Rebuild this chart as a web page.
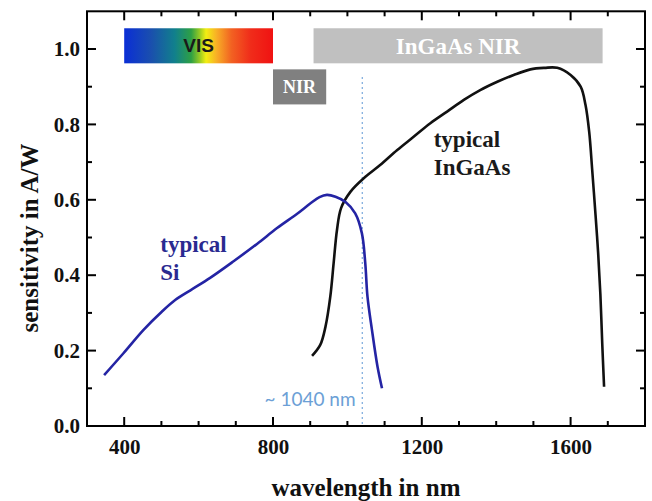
<!DOCTYPE html>
<html>
<head>
<meta charset="utf-8">
<script src="https://cdn.jsdelivr.net/npm/d3@7"></script>
<style>
  body { margin: 0; background: #fff; }
  svg { display: block; }
</style>
</head>
<body>
<div class="chart"></div>
<script>
// data
const siWl = [346, 398, 452, 501, 537, 578, 631, 694, 757, 811, 865, 900, 925, 945, 968, 995, 1021, 1039, 1048, 1054, 1066, 1081, 1093];
const siResp = [0.135, 0.193, 0.255, 0.303, 0.334, 0.36, 0.393, 0.437, 0.483, 0.525, 0.563, 0.59, 0.607, 0.613, 0.608, 0.594, 0.564, 0.511, 0.432, 0.343, 0.255, 0.157, 0.1];

const ingaasWl = [905, 927, 941, 954, 963, 972, 983, 1008, 1044, 1088, 1134, 1178, 1223, 1268, 1313, 1357, 1403, 1447, 1492, 1530, 1564, 1600, 1627, 1640, 1650, 1658, 1667, 1674, 1680, 1685, 1690];
const ingaasResp = [0.186, 0.215, 0.263, 0.343, 0.432, 0.52, 0.578, 0.621, 0.657, 0.692, 0.732, 0.767, 0.803, 0.834, 0.865, 0.891, 0.913, 0.931, 0.946, 0.95, 0.95, 0.931, 0.9, 0.852, 0.78, 0.68, 0.56, 0.46, 0.35, 0.22, 0.104];

// spectral bands (nm range, sensitivity range)
const bandNames = ["VIS", "NIR", "InGaAs NIR"];
const bandStart = [400, 800, 909];
const bandEnd = [800, 943, 1686];
const bandLow = [0.962, 0.853, 0.962];
const bandHigh = [1.055, 0.946, 1.055];

const xTicks = [400, 800, 1200, 1600];
const yTicks = [0.0, 0.2, 0.4, 0.6, 0.8, 1.0];

const cutoffWl = 1040;
const cutoffTop = 0.926;

const width = 652;
const height = 501;
const margin = { top: 12, right: 7, bottom: 75, left: 87 };

const svg = d3
  .select(".chart")
  .append("svg")
  .attr("width", width)
  .attr("height", height);

const x = d3
  .scaleLinear()
  .domain([300, 1800])
  .range([margin.left, width - margin.right]);

const y = d3
  .scaleLinear()
  .domain([0, 1.1])
  .range([height - margin.bottom, height - margin.bottom - 1.1 * 377]);

const serif = "'Liberation Serif', 'Times New Roman', serif";

//gradient for the visible band
const defs = svg.append("defs");
const grad = defs
  .append("linearGradient")
  .attr("id", "visGrad")
  .attr("x1", "0%")
  .attr("x2", "100%");
[
  [0, "#0a2ed6"],
  [0.18, "#1a4fae"],
  [0.34, "#11808c"],
  [0.45, "#2ea044"],
  [0.51, "#9ccc22"],
  [0.55, "#f2ee12"],
  [0.62, "#f8b026"],
  [0.72, "#f26222"],
  [0.85, "#f02c1a"],
  [1, "#f01212"]
].forEach(s => grad.append("stop").attr("offset", s[0]).attr("stop-color", s[1]));

const bandFill = ["url(#visGrad)", "#808080", "#c0c0c0"];
const bandText = ["#1a1a1a", "#ffffff", "#ffffff"];
const bandFont = ["'Liberation Sans', Arial, sans-serif", serif, serif];
const bandSize = [19, 18, 23];

const bands = svg
  .selectAll("g.band")
  .data(bandNames)
  .enter()
  .append("g")
  .attr("class", "band");

bands
  .append("rect")
  .attr("x", (d, i) => x(bandStart[i]))
  .attr("y", (d, i) => y(bandHigh[i]))
  .attr("width", (d, i) => x(bandEnd[i]) - x(bandStart[i]))
  .attr("height", (d, i) => y(bandLow[i]) - y(bandHigh[i]))
  .attr("fill", (d, i) => bandFill[i]);

bands
  .append("text")
  .attr("x", (d, i) => (x(bandStart[i]) + x(bandEnd[i])) / 2)
  .attr("y", (d, i) => (y(bandLow[i]) + y(bandHigh[i])) / 2)
  .attr("dy", "0.35em")
  .attr("text-anchor", "middle")
  .attr("font-family", (d, i) => bandFont[i])
  .attr("font-weight", "bold")
  .attr("font-size", (d, i) => bandSize[i])
  .attr("fill", (d, i) => bandText[i])
  .text(d => d);

//cutoff line
svg
  .append("line")
  .attr("x1", x(cutoffWl))
  .attr("x2", x(cutoffWl))
  .attr("y1", y(cutoffTop))
  .attr("y2", y(0))
  .attr("stroke", "#7aa9dc")
  .attr("stroke-width", 1.2)
  .attr("stroke-dasharray", "2,3");

svg
  .append("text")
  .attr("x", x(1022))
  .attr("y", y(0.053))
  .attr("text-anchor", "end")
  .attr("font-family", "Lato, 'Open Sans', sans-serif")
  .attr("font-size", 19)
  .attr("fill", "#6c9fd6")
  .text("~ " + cutoffWl + " nm");

//curves
const line = d3
  .line()
  .x(d => x(d[0]))
  .y(d => y(d[1]))
  .curve(d3.curveCatmullRom.alpha(0.5));

svg
  .append("path")
  .attr("d", line(d3.zip(ingaasWl, ingaasResp)))
  .attr("fill", "none")
  .attr("stroke", "#111")
  .attr("stroke-width", 2.6)
  .attr("stroke-linejoin", "round");

svg
  .append("path")
  .attr("d", line(d3.zip(siWl, siResp)))
  .attr("fill", "none")
  .attr("stroke", "#2424a4")
  .attr("stroke-width", 2.6)
  .attr("stroke-linejoin", "round");

//curve labels
function label(lines, wl, val, color) {
  const t = svg
    .append("text")
    .attr("font-family", serif)
    .attr("font-weight", "bold")
    .attr("font-size", 23)
    .attr("fill", color);
  lines.forEach((s, i) => {
    t.append("tspan")
      .attr("x", x(wl))
      .attr("y", y(val) + i * 28)
      .text(s);
  });
}
label(["typical", "Si"], 497, 0.462, "#2a2a90");
label(["typical", "InGaAs"], 1232, 0.74, "#1a1a1a");

//axes, ticks point inward on all four sides
const minorX = d3.range(300, 1801, 100).filter(v => !xTicks.includes(v));
const minorY = d3.range(1, 11, 2).map(v => v / 10);

function tickLines(sel, vals, len, side) {
  sel
    .selectAll(null)
    .data(vals)
    .enter()
    .append("line")
    .attr("x1", d => (side === "top" || side === "bottom" ? x(d) : side === "left" ? x.range()[0] : x.range()[1]))
    .attr("x2", d => (side === "top" || side === "bottom" ? x(d) : side === "left" ? x.range()[0] + len : x.range()[1] - len))
    .attr("y1", d => (side === "left" || side === "right" ? y(d) : side === "bottom" ? y.range()[0] : y.range()[1]))
    .attr("y2", d => (side === "left" || side === "right" ? y(d) : side === "bottom" ? y.range()[0] - len : y.range()[1] + len))
    .attr("stroke", "#000")
    .attr("stroke-width", 2);
}

const ticks = svg.append("g").attr("class", "ticks");
["bottom", "top"].forEach(s => {
  tickLines(ticks, xTicks, 9, s);
  tickLines(ticks, minorX, 5, s);
});
["left", "right"].forEach(s => {
  tickLines(ticks, yTicks, 9, s);
  tickLines(ticks, minorY, 5, s);
});

svg
  .append("rect")
  .attr("x", x.range()[0])
  .attr("y", y.range()[1])
  .attr("width", x.range()[1] - x.range()[0])
  .attr("height", y.range()[0] - y.range()[1])
  .attr("fill", "none")
  .attr("stroke", "#000")
  .attr("stroke-width", 2);

const xAxis = d3
  .axisBottom(x)
  .tickValues(xTicks)
  .tickSize(0)
  .tickPadding(13)
  .tickFormat(d3.format("d"));

const yAxis = d3
  .axisLeft(y)
  .tickValues(yTicks)
  .tickSize(0)
  .tickPadding(7)
  .tickFormat(d3.format(".1f"));

svg
  .append("g")
  .attr("transform", "translate(0," + y.range()[0] + ")")
  .call(xAxis)
  .call(g => g.select(".domain").remove());

svg
  .append("g")
  .attr("transform", "translate(" + x.range()[0] + ",0)")
  .call(yAxis)
  .call(g => g.select(".domain").remove());

svg
  .selectAll(".tick text")
  .attr("font-family", serif)
  .attr("font-weight", "bold")
  .attr("font-size", 21)
  .attr("fill", "#111");

//axis titles
svg
  .append("text")
  .attr("x", (x.range()[0] + x.range()[1]) / 2)
  .attr("y", 496)
  .attr("text-anchor", "middle")
  .attr("font-family", serif)
  .attr("font-weight", "bold")
  .attr("font-size", 25)
  .attr("fill", "#111")
  .text("wavelength in nm");

svg
  .append("text")
  .attr("transform", "translate(38,238) rotate(-90)")
  .attr("text-anchor", "middle")
  .attr("font-family", serif)
  .attr("font-weight", "bold")
  .attr("font-size", 25)
  .attr("fill", "#111")
  .text("sensitivity in A/W");
</script>
</body>
</html>
